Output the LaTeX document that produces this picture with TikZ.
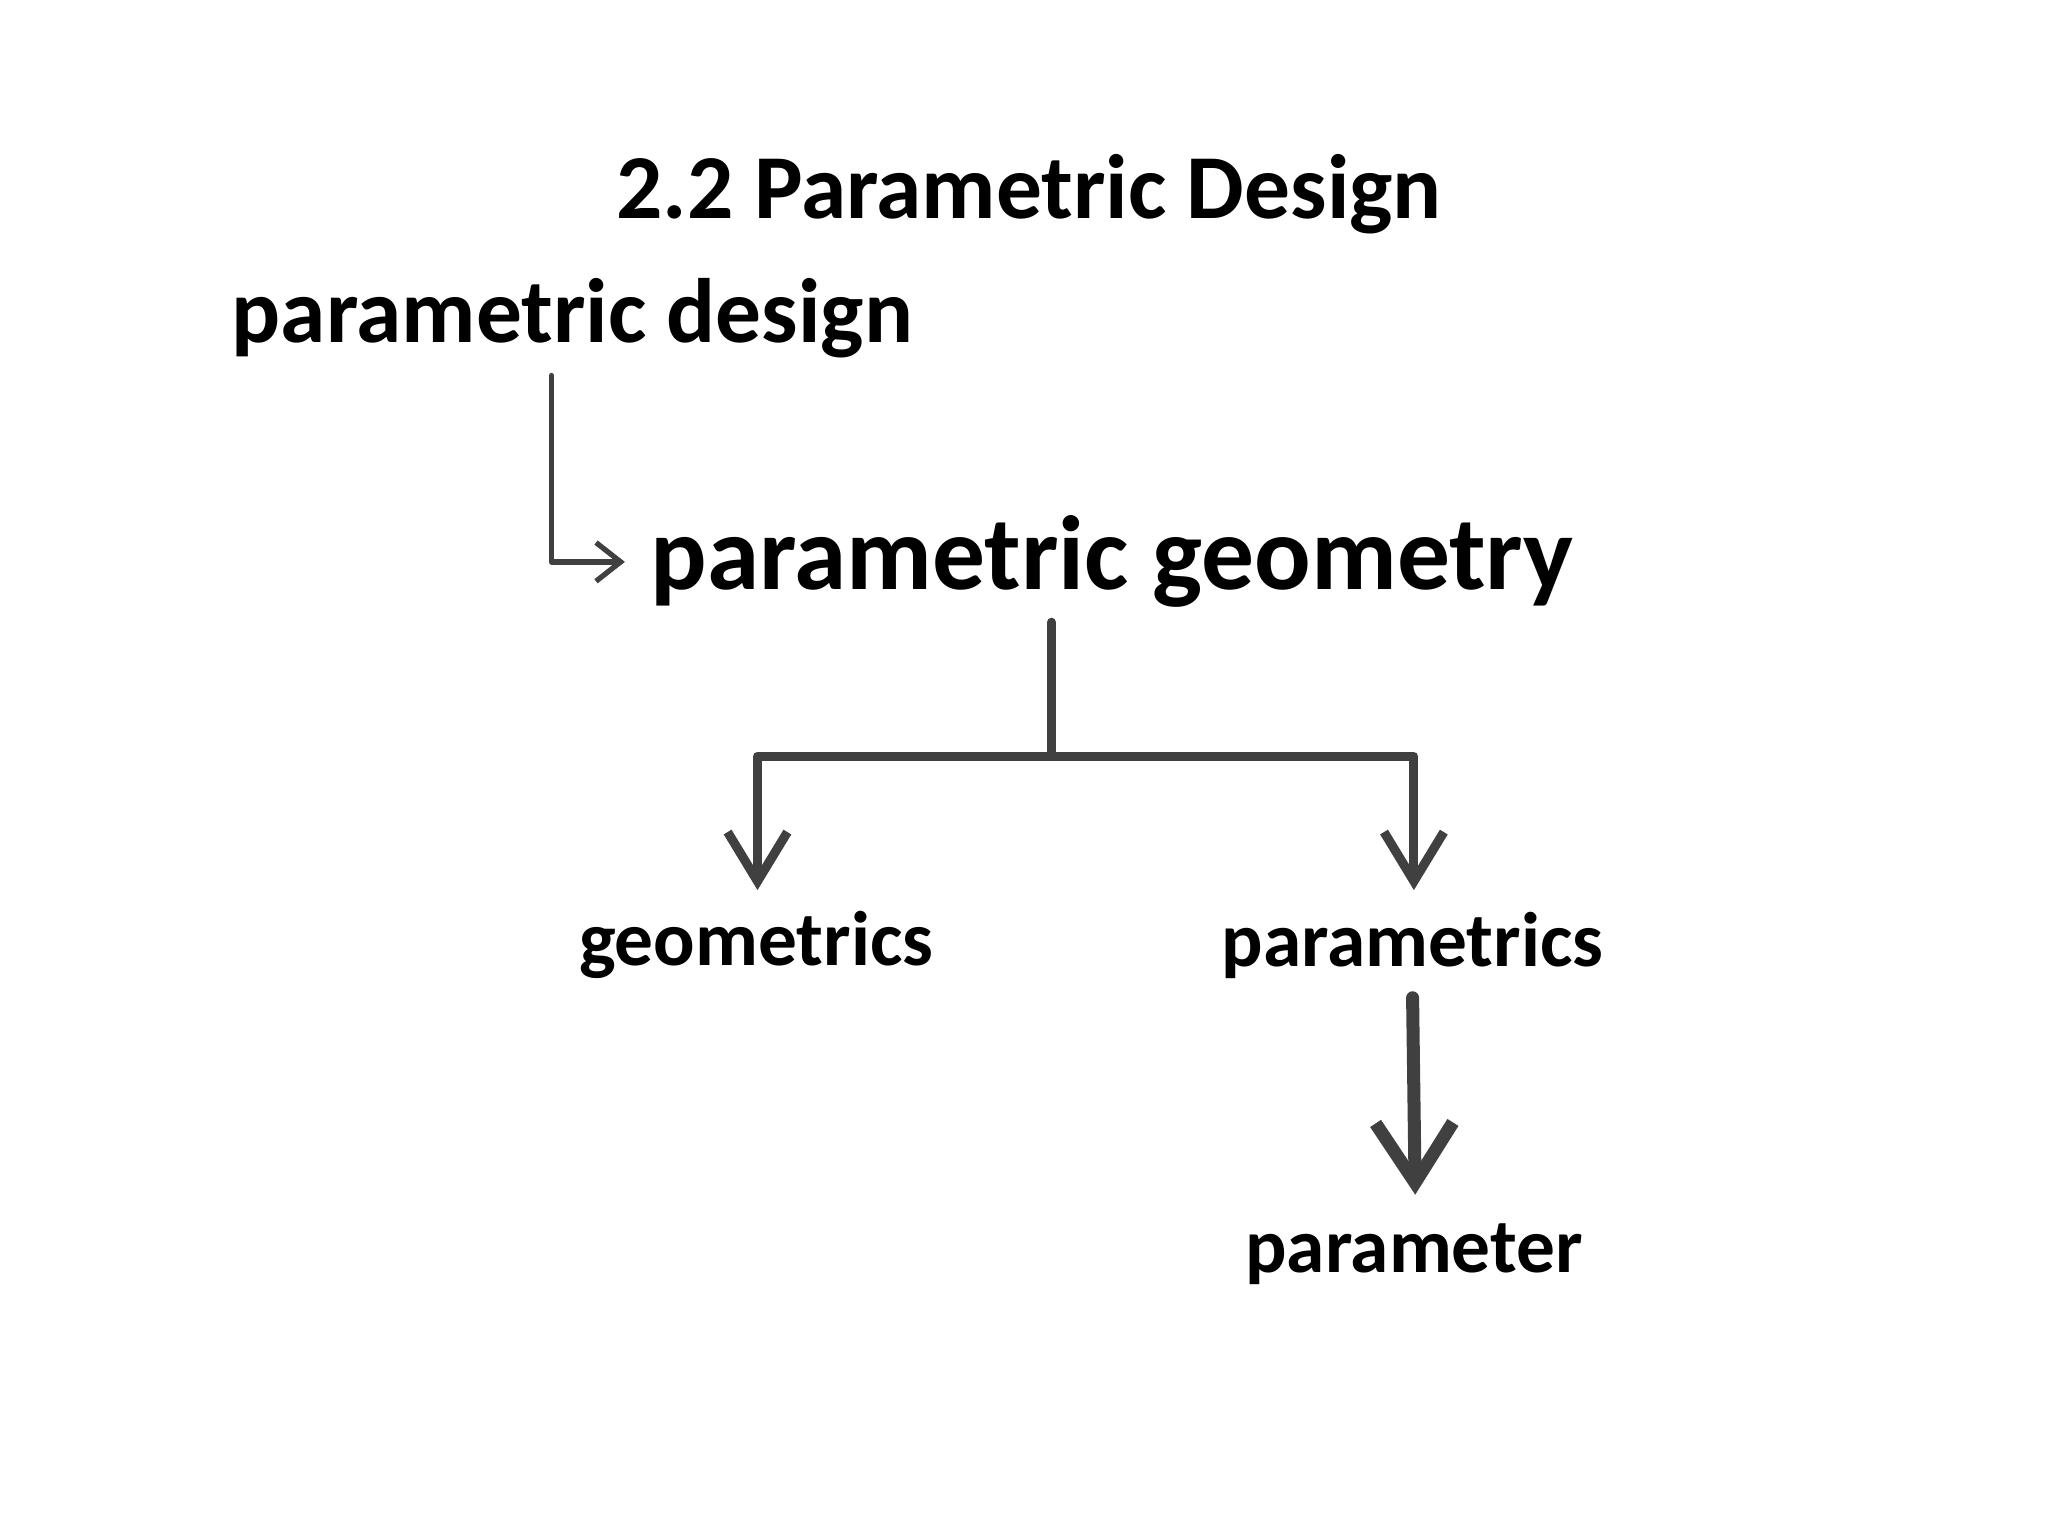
\documentclass[tikz,border=0pt]{standalone}
\usepackage{fontspec}
\setmainfont{Carlito}
\usetikzlibrary{arrows.meta}
\definecolor{ln}{HTML}{404040}
\begin{document}
\begin{tikzpicture}[x=0.013128cm,y=-0.013128cm,
  lbl/.style={inner sep=0pt,font=\bfseries},
  conn/.style={draw=ln,line join=round,line cap=round}]
\useasboundingbox (0,0) rectangle (1560,1170);
\node[lbl,font=\bfseries\fontsize{26}{30}\selectfont] (title) at (784,148) {2.2 Parametric Design};
\node[lbl,anchor=west,font=\bfseries\fontsize{26}{30}\selectfont] (pd) at (176,242) {parametric design};
\node[lbl,anchor=west,font=\bfseries\fontsize{30}{34}\selectfont] (pg) at (495,428) {parametric geometry};
\node[lbl,font=\bfseries\fontsize{22}{26}\selectfont] (geo) at (576,720) {geometrics};
\node[lbl,font=\bfseries\fontsize{22}{26}\selectfont] (par) at (1076,720) {parametrics};
\node[lbl,font=\bfseries\fontsize{22}{26}\selectfont] (pm) at (1077,955) {parameter};
\coordinate (a0) at (420,286);
\coordinate (j) at (801,576);
\coordinate (t0) at (801,474);
\coordinate (ga) at (577,678);
\coordinate (pa) at (1077,678);
\coordinate (q0) at (1076,760);
\coordinate (q1) at (1078,910);
\draw[conn,line width=1.5pt,-{Straight Barb[length=7pt,width=11pt]}] (a0) |- (pg.west -| 476,0);
\draw[conn,line width=2.6pt] (t0) -- (j);
\draw[conn,line width=2.6pt,-{Straight Barb[length=14pt,width=17pt]}] (j) -| (ga);
\draw[conn,line width=2.6pt,-{Straight Barb[length=14pt,width=17pt]}] (j) -| (pa);
\draw[conn,line width=3.7pt,-{Straight Barb[length=17pt,width=22pt]}] (q0) -- (q1);
\end{tikzpicture}
\end{document}
